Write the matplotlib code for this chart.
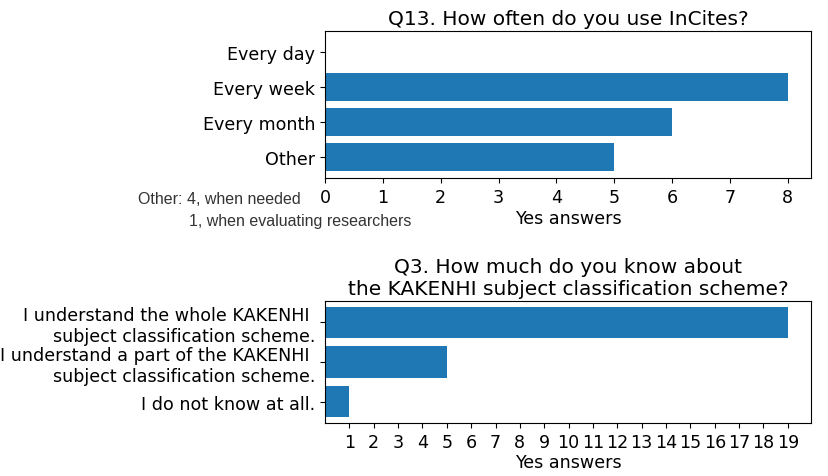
import matplotlib.pyplot as plt

# Q13 data (top chart, listed top to bottom)
q13_labels = ["Every day", "Every week", "Every month", "Other"]
q13_counts = [0, 8, 6, 5]

# Q3 data (bottom chart, listed top to bottom)
q3_labels = [
    "I understand the whole KAKENHI \nsubject classification scheme.",
    "I understand a part of the KAKENHI \nsubject classification scheme.",
    "I do not know at all.",
]
q3_counts = [19, 5, 1]
q3_ticks = list(range(1, 20))

other_note = ["Other: 4, when needed", "1, when evaluating researchers"]

W, H = 829, 477
fig = plt.figure(figsize=(W / 100, H / 100), dpi=100)

bar_color = "#1f77b4"
fs = 12.6

# --- Top chart ---
ax1 = fig.add_axes([325 / W, 1 - 179 / H, 486 / W, 147 / H])
ax1.barh(q13_labels[::-1], q13_counts[::-1], height=0.8, color=bar_color)
ax1.set_title("Q13. How often do you use InCites?", fontsize=14.5, pad=5)
ax1.set_xlabel("Yes answers", fontsize=fs, labelpad=2)
ax1.tick_params(labelsize=fs)

# --- Bottom chart ---
ax2 = fig.add_axes([325 / W, 1 - 424 / H, 486 / W, 122 / H])
ax2.barh(q3_labels[::-1], q3_counts[::-1], height=0.8, color=bar_color)
ax2.set_xticks(q3_ticks)
ax2.set_title("Q3. How much do you know about\nthe KAKENHI subject classification scheme?",
              fontsize=14.5, pad=5)
ax2.set_xlabel("Yes answers", fontsize=fs, labelpad=2)
ax2.tick_params(labelsize=fs)

# pasted-in note under the top chart
fig.text(138 / W, 1 - 200 / H, other_note[0], family="Liberation Sans",
         fontsize=11.5, color="#333333", va="center", ha="left")
fig.text(189 / W, 1 - 222 / H, other_note[1], family="Liberation Sans",
         fontsize=11.5, color="#333333", va="center", ha="left")

fig.savefig("out.png", dpi=100)
